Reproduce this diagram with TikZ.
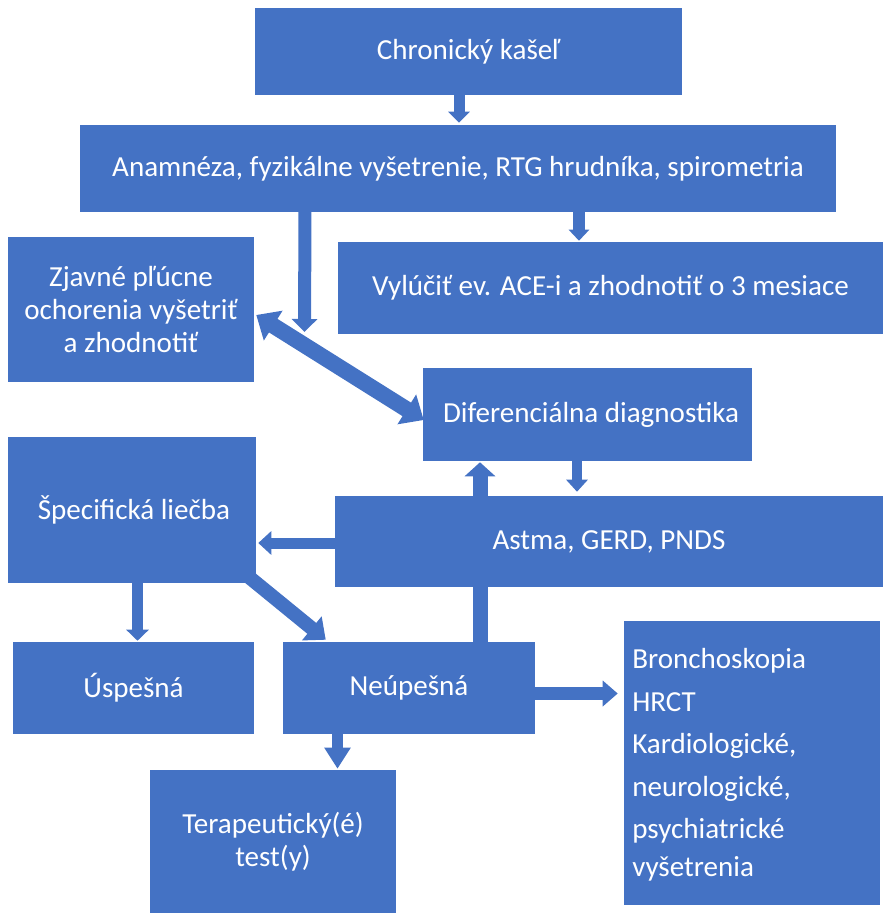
\documentclass[tikz,border=0pt]{standalone}
\usepackage{fontspec}
\setmainfont{Carlito}
\usetikzlibrary{arrows.meta,calc,backgrounds}
\definecolor{obl}{HTML}{4472C4}
\tikzset{
  box/.style={fill=obl, draw=none, text=white, inner sep=0pt, font=\fontsize{21.8}{24.75}\selectfont},
  lbl/.style={text=white, inner sep=0pt, font=\fontsize{21.8}{24.75}\selectfont},
  barr/.style n args={3}{draw=obl, line width=#1*0.75pt, -{Triangle[width=#2*0.75pt, length=#3*0.75pt]}},
}
\begin{document}
\begin{tikzpicture}[x=0.75pt, y=-0.75pt]
\useasboundingbox (0,0) rectangle (883,915);
\node[box, minimum width=427*0.75pt, minimum height=87*0.75pt] (chron) at (468.5,51.5) {Chronický kašeľ};
\node[box, minimum width=756*0.75pt, minimum height=87*0.75pt] (anam) at (458,168.5) {Anamnéza, fyzikálne vyšetrenie, RTG hrudníka, spirometria};
\node[box, minimum width=246*0.75pt, minimum height=145*0.75pt, align=center] (zjav) at (131,309.5) {Zjavné pľúcne\\ochorenia vyšetriť\\a zhodnotiť};
\node[box, minimum width=545*0.75pt, minimum height=92*0.75pt] (vyl) at (610.5,288) {Vylúčiť ev. ACE-i a zhodnotiť o 3 mesiace};
\node[box, minimum width=329*0.75pt, minimum height=93*0.75pt] (dif) at (587.5,414.5) {};
\node[lbl] (diftext) at (591,414.5) {Diferenciálna diagnostika};
\node[box, minimum width=248*0.75pt, minimum height=146*0.75pt] (spec) at (132,510) {};
\node[lbl] (spectext) at (134,510) {Špecifická liečba};
\node[box, minimum width=548*0.75pt, minimum height=91*0.75pt] (astma) at (609,541.5) {Astma, GERD, PNDS};
\node[box, minimum width=241*0.75pt, minimum height=92*0.75pt] (usp) at (133.5,688) {Úspešná};
\node[box, minimum width=252*0.75pt, minimum height=92*0.75pt] (neu) at (409,688) {Neúpešná};
\node[box, minimum width=256*0.75pt, minimum height=284*0.75pt] (bron) at (752,763) {};
\node[lbl, anchor=base west, align=left, font=\fontsize{21.8}{31.9}\selectfont] (brontext) at (632,876) {Bronchoskopia\\HRCT\\Kardiologické,\\neurologické,\\psychiatrické\\[-4pt]vyšetrenia};
\node[box, minimum width=246*0.75pt, minimum height=143*0.75pt, align=center] (ter) at (273,841.5) {Terapeutický(é)\\test(y)};
\coordinate (free) at (304.5,332);
\begin{pgfonlayer}{background}
\draw[barr={11}{21}{11}] ($(chron.south)+(-9.5,-2)$) -- ($(anam.north)+(1,-2)$);
\draw[barr={12}{20}{11}] ($(anam.south)+(121,-2)$) -- ($(vyl.north)+(-31.5,-1)$);
\draw[barr={13}{25}{13}] ($(anam.south)+(-153,-2)$) -- (free);
\draw[draw=obl, line width=16*0.75pt, {Triangle[width=34*0.75pt, length=20*0.75pt]}-{Triangle[width=34*0.75pt, length=20*0.75pt]}] ($(zjav.east)+(2,5.5)$) -- ($(dif.west)+(1,5.5)$);
\draw[barr={15}{30}{14}] ($(neu.north)+(71,2)$) -- ($(dif.south)+(-107.5,1)$);
\draw[barr={10}{21}{12}] ($(dif.south)+(-10.5,-2)$) -- ($(astma.north)+(-32,-4)$);
\draw[barr={11}{23}{13}] ($(astma.west)+(2,1.5)$) -- ($(spec.east)+(2,33)$);
\draw[barr={14}{30}{18}] ($(spec.south east)+(-7,-6)$) -- ($(neu.north west)+(43,-2)$);
\draw[barr={11}{22}{11}] ($(spec.south)+(5.5,-2)$) -- ($(usp.north)+(4,-1)$);
\draw[barr={13}{25}{15}] ($(neu.east)+(-2,5.5)$) -- ($(bron.west)+(-6,-69.5)$);
\draw[barr={11}{25}{21}] ($(neu.south)+(-71.5,-2)$) -- ($(ter.north)+(64.5,-1)$);
\end{pgfonlayer}
\end{tikzpicture}
\end{document}
